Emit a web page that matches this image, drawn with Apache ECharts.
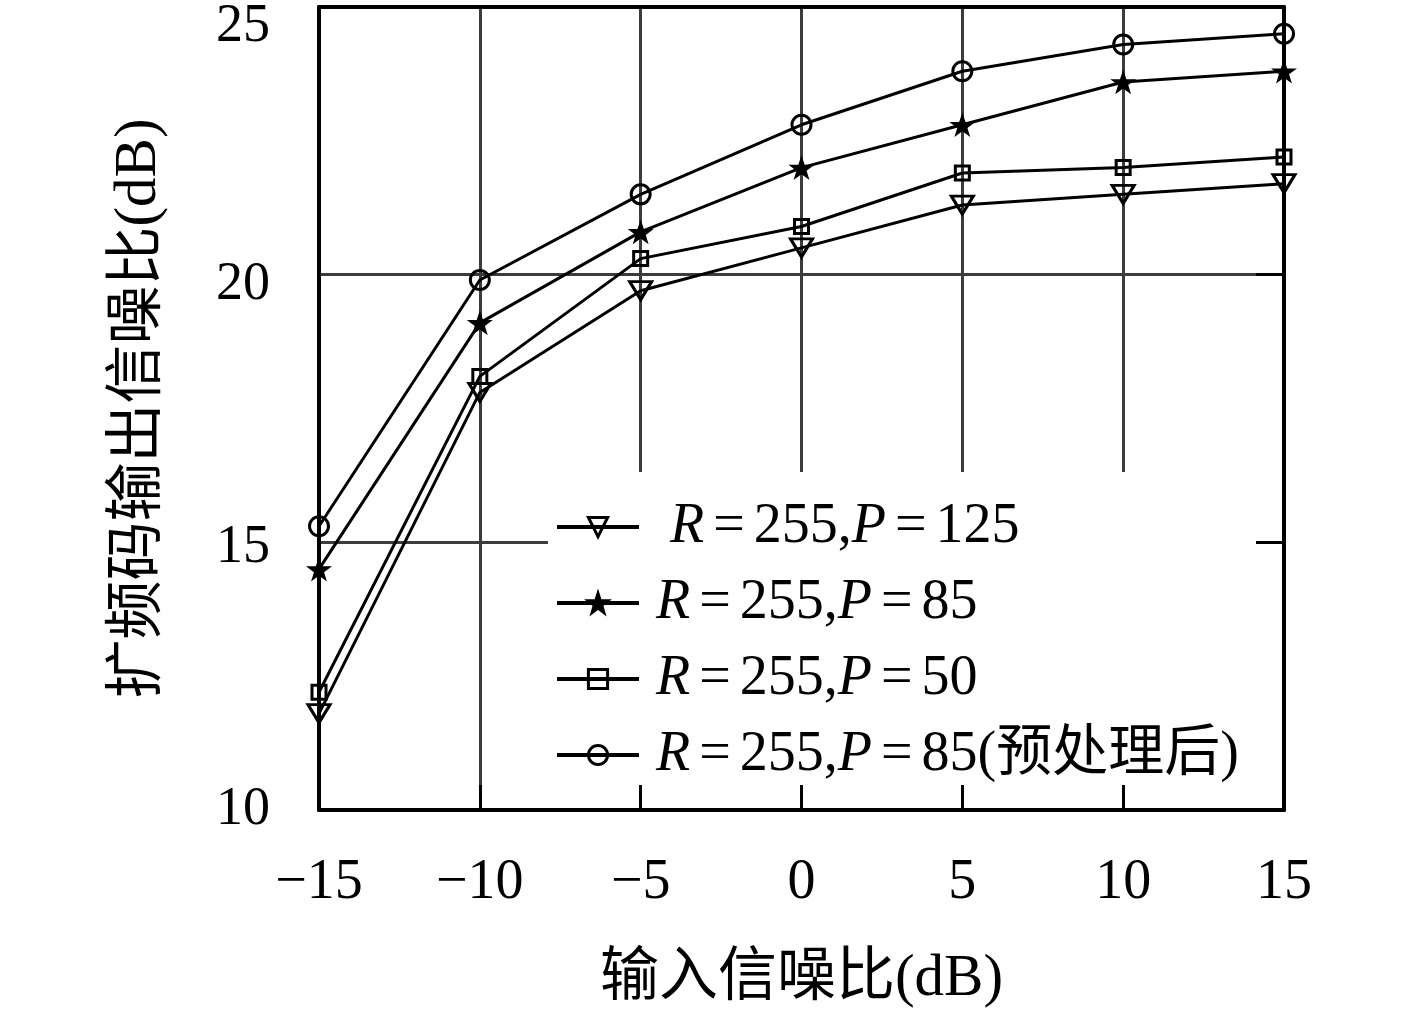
<!DOCTYPE html>
<html>
<head>
    <meta charset="utf-8">
    <title>ECharts</title>
    <script type="text/javascript" src="https://cdn.jsdelivr.net/npm/echarts@6/dist/echarts.min.js"></script>
    <style>
        html, body { margin: 0; padding: 0; background: #fff; }
    </style>
</head>
<body>
<div id="main" style="width: 1417px;height:1020px;"></div>
<script type="text/javascript">
    // 数据
    var snrIn = [-15, -10, -5, 0, 5, 10, 15];
    var p125 = [11.8, 17.8, 19.7, 20.5, 21.3, 21.5, 21.7];
    var p85 = [14.5, 19.1, 20.8, 22.0, 22.8, 23.6, 23.8];
    var p50 = [12.2, 18.1, 20.3, 20.9, 21.9, 22.0, 22.2];
    var p85pre = [15.3, 19.9, 21.5, 22.8, 23.8, 24.3, 24.5];
    var names = [' R=255,P=125', 'R=255,P=85', 'R=255,P=50', 'R=255,P=85(预处理后)'];
    var yTicks = [10, 15, 20, 25];

    var serif = '"Liberation Serif", "DejaVu Serif", "Noto Sans CJK SC", serif';
    var star = 'path://M50,0 L61.8,35.3 L98.1,35.3 L68.8,57.1 L79.4,91.2 L50,70 L20.6,91.2 L31.2,57.1 L1.9,35.3 L38.2,35.3 Z';

    function pairs(ys) {
        return snrIn.map(function (x, i) { return [x, ys[i]]; });
    }

    function lineSeries(name, ys, symbol, size, filled, rotate) {
        return {
            type: 'line',
            name: name,
            data: pairs(ys),
            symbol: symbol,
            symbolSize: size,
            symbolRotate: rotate || 0,
            symbolKeepAspect: true,
            showAllSymbol: true,
            lineStyle: {color: '#000', width: 3},
            itemStyle: {
                color: filled ? '#000' : 'rgba(0,0,0,0)',
                borderColor: '#000',
                borderWidth: filled ? 0 : 3
            },
            z: 3
        };
    }

    // 外框和刻度 (画在图例之上)
    function frameAxis(dim, pos, tickLen) {
        var a = {
            type: 'value',
            position: pos,
            axisLine: {show: true, onZero: false, lineStyle: {color: '#000', width: 4}},
            axisLabel: {show: false},
            axisTick: {show: tickLen > 0, inside: true, length: tickLen, lineStyle: {color: '#000', width: 3}},
            splitLine: {show: false},
            z: 6
        };
        if (dim === 'x') { a.min = -15; a.max = 15; a.interval = 5; }
        else { a.min = 10; a.max = 25; a.interval = 5; }
        return a;
    }

    var myChart = echarts.init(document.getElementById('main'));
    var option = {
        animation: false,
        grid: {left: 319, right: 133, top: 7, bottom: 210},
        legend: {
            orient: 'vertical',
            left: 548,
            top: 472,
            padding: [25, 20, 6, 7],
            backgroundColor: '#fff',
            itemWidth: 82,
            itemHeight: 24,
            itemGap: 16,
            lineStyle: {width: 4},
            itemStyle: {borderWidth: 3},
            data: names,
            formatter: function (n) {
                return n.replace(/([RP])/g, '{i|$1}').replace(/=/g, '{e|=}');
            },
            textStyle: {
                fontFamily: serif,
                fontSize: 56,
                lineHeight: 60,
                color: '#000',
                padding: [0, 0, 0, 12],
                rich: {
                    i: {fontFamily: serif, fontSize: 56, lineHeight: 60, fontStyle: 'italic', color: '#000'},
                    e: {fontFamily: serif, fontSize: 56, lineHeight: 60, color: '#000', padding: [0, 9]}
                }
            },
            z: 4
        },
        xAxis: [{
            type: 'value',
            min: -15, max: 15, interval: 5,
            name: '输入信噪比(dB)',
            nameLocation: 'middle',
            nameGap: 140,
            nameTextStyle: {fontFamily: serif, fontSize: 59, color: '#000'},
            axisLine: {show: false},
            axisTick: {show: false},
            axisLabel: {
                fontFamily: serif, fontSize: 56, color: '#000', margin: 45,
                formatter: function (v) { return String(v).replace('-', '\u2212'); }
            },
            splitLine: {show: true, lineStyle: {color: '#3c3c3c', width: 3}}
        },
            frameAxis('x', 'bottom', 25),
            frameAxis('x', 'top', 0)
        ],
        yAxis: [{
            type: 'value',
            min: 10, max: 25, interval: 5,
            name: '扩频码输出信噪比(dB)',
            nameLocation: 'middle',
            nameGap: 150,
            nameTextStyle: {fontFamily: serif, fontSize: 59, color: '#000'},
            axisLine: {show: false},
            axisTick: {show: false},
            axisLabel: {
                fontFamily: serif, fontSize: 54, color: '#000', margin: 49,
                formatter: function (v) {
                    var k = yTicks.indexOf(v);
                    return '{t' + k + '|' + v + '}';
                },
                rich: {
                    t0: {fontFamily: serif, fontSize: 54, color: '#000'},
                    t1: {fontFamily: serif, fontSize: 54, color: '#000', padding: [10, 0, 0, 0]},
                    t2: {fontFamily: serif, fontSize: 54, color: '#000', padding: [20, 0, 0, 0]},
                    t3: {fontFamily: serif, fontSize: 54, color: '#000', padding: [40, 0, 0, 0]}
                }
            },
            splitLine: {show: true, lineStyle: {color: '#3c3c3c', width: 3}}
        },
            frameAxis('y', 'right', 28),
            frameAxis('y', 'left', 0)
        ],
        series: [
            lineSeries(names[0], p125, 'triangle', [22, 18], false, 180),
            lineSeries(names[1], p85, star, 26, true),
            lineSeries(names[2], p50, 'rect', 14, false),
            lineSeries(names[3], p85pre, 'circle', 19, false)
        ]
    };
    myChart.setOption(option);
</script>
</body>
</html>
